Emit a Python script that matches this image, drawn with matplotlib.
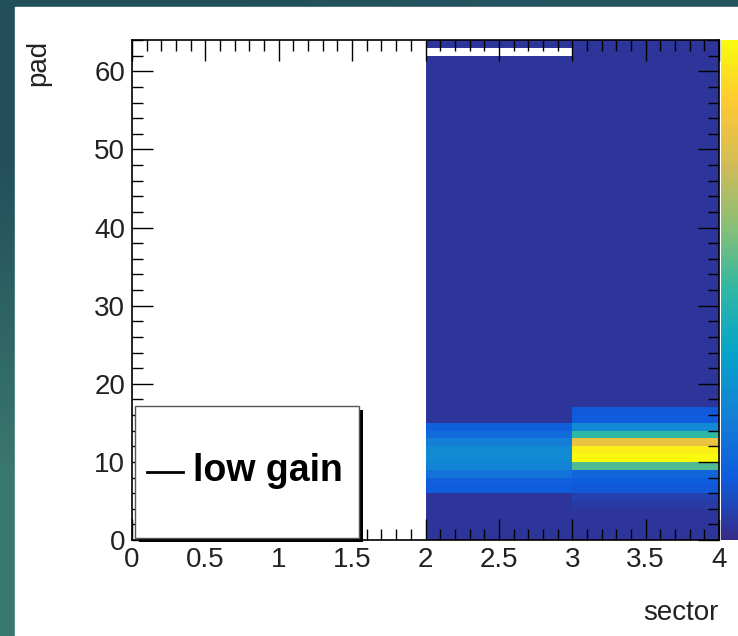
import numpy as np
import matplotlib.pyplot as plt
from matplotlib.colors import LinearSegmentedColormap
from matplotlib.patches import Rectangle
from matplotlib.ticker import MultipleLocator, FormatStrFormatter

plt.rcParams['font.family'] = ['Liberation Sans', 'DejaVu Sans']

# histogram content: rows = pad 0..63, one list per sector
sector_edges = [0, 1, 2, 3, 4]
pad_edges = list(range(65))

sector0 = [0] * 64
sector1 = [0] * 64
sector2 = ([3, 3, 3, 3, 3, 3, 13, 14, 20, 26, 28, 28, 24, 18, 14]
           + [3] * 47 + [0, 3])
sector3 = ([3, 3, 3, 3, 4, 6, 12, 13, 16, 55, 100, 97, 82, 50, 28, 13, 12]
           + [3] * 47)

legend_label = 'low gain'

# ROOT kBird palette
bird = [(0.2082, 0.1664, 0.5293), (0.0592, 0.3599, 0.8684), (0.0780, 0.5041, 0.8385),
        (0.0232, 0.6419, 0.7914), (0.1802, 0.7178, 0.6425), (0.5301, 0.7492, 0.4662),
        (0.8186, 0.7328, 0.3499), (0.9956, 0.7862, 0.1968), (0.9764, 0.9832, 0.0539)]
cmap = LinearSegmentedColormap.from_list('bird', bird, N=255)

fig = plt.figure(figsize=(7.38, 6.36), dpi=100)
W, H = 738, 636

# slide background
bg = fig.add_axes([0, 0, 1, 1])
grad = np.array([[[0.13, 0.31, 0.36], [0.14, 0.33, 0.38]],
                 [[0.23, 0.47, 0.43], [0.20, 0.42, 0.42]]])
bg.imshow(grad, extent=[0, 1, 0, 1], aspect='auto', interpolation='bilinear')
bg.add_patch(Rectangle((15 / W, 0), 1, (H - 7) / H, color='white'))
bg.set_xlim(0, 1)
bg.set_ylim(0, 1)
bg.axis('off')

ax = fig.add_axes([132 / W, 96 / H, 587 / W, 500 / H])
z = np.array([sector0, sector1, sector2, sector3]).T
z = np.ma.masked_equal(z, 0)
mesh = ax.pcolormesh(sector_edges, pad_edges, z, cmap=cmap, vmin=0, vmax=100)

ax.set_xlim(0, 4)
ax.set_ylim(0, 64)
ax.xaxis.set_major_locator(MultipleLocator(0.5))
ax.xaxis.set_minor_locator(MultipleLocator(0.1))
ax.yaxis.set_major_locator(MultipleLocator(10))
ax.yaxis.set_minor_locator(MultipleLocator(2))
ax.xaxis.set_major_formatter(FormatStrFormatter('%g'))
ax.tick_params(which='both', direction='in', top=True, right=True, labelsize=20,
               width=1, labelcolor='#222222')
ax.tick_params(which='major', length=15, pad=5)
ax.tick_params(which='minor', length=8)
for s in ax.spines.values():
    s.set_linewidth(1.2)

ax.set_xlabel('sector', fontsize=20, color='#222222')
ax.xaxis.set_label_coords(1.0, -0.12)
ax.xaxis.label.set_ha('right')
ax.set_ylabel('pad', fontsize=20, color='#222222', loc='top')
ax.yaxis.set_label_coords(-0.138, 1.0)

# legend box with ROOT-like shadow
def px(x, y):
    return ((x - 132) / 587, (540 - y) / 500)

sx, sy = px(139, 542)
ax.add_patch(Rectangle((sx, sy), 224 / 587, 132 / 500, transform=ax.transAxes,
                       facecolor='black', edgecolor='none', clip_on=False, zorder=5))
bx, by = px(135, 538)
ax.add_patch(Rectangle((bx, by), 224 / 587, 132 / 500, transform=ax.transAxes,
                       facecolor='white', edgecolor='#555555', lw=1, clip_on=False, zorder=6))
l0, ly = px(147, 472)
l1, _ = px(183, 472)
ax.plot([l0, l1], [ly, ly], transform=ax.transAxes, color='black', lw=2,
        clip_on=False, zorder=7)
tx, ty = px(193, 481)
ax.text(tx, ty, legend_label, transform=ax.transAxes, fontsize=27, fontweight='bold',
        va='baseline', ha='left', zorder=7)

cax = fig.add_axes([721 / W, 96 / H, 0.05, 500 / H])
cb = fig.colorbar(mesh, cax=cax)
cb.outline.set_visible(False)
cax.set_yticks([])

fig.savefig('out.png', dpi=100)
